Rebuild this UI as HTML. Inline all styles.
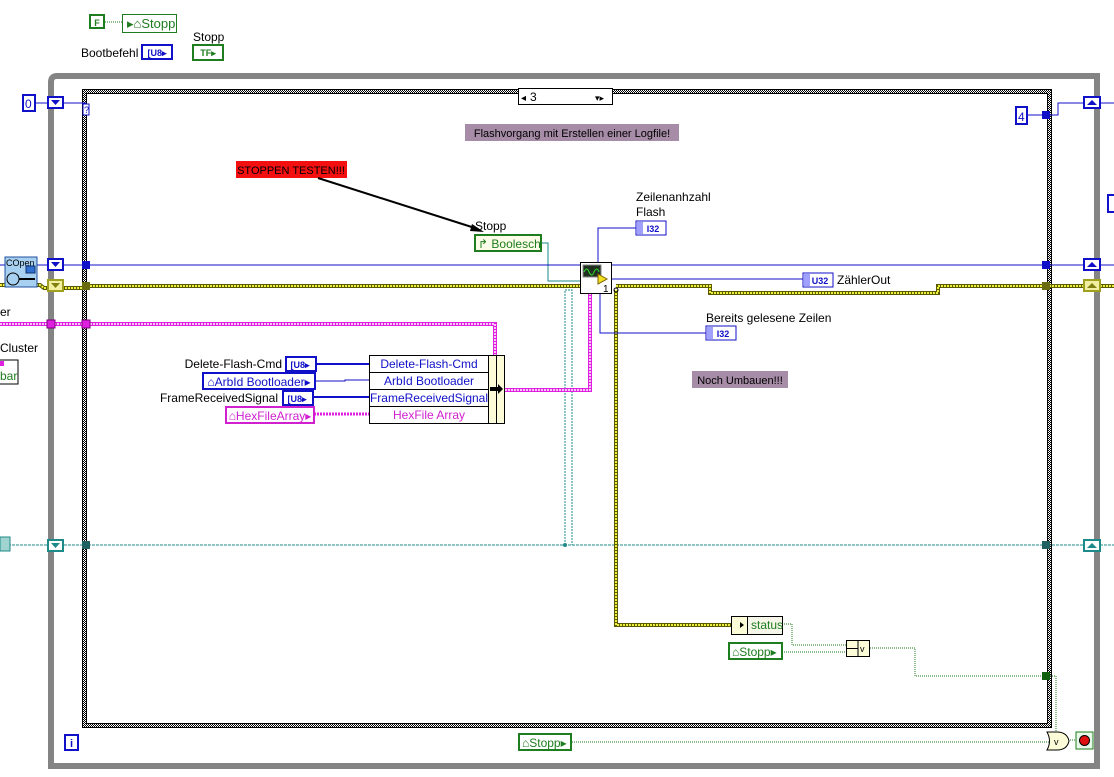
<!DOCTYPE html>
<html><head><meta charset="utf-8"><style>
html,body{margin:0;padding:0;background:#fff;}
svg{display:block;font-family:"Liberation Sans",sans-serif;}
</style></head><body>
<svg width="1114" height="777" viewBox="0 0 1114 777" xmlns="http://www.w3.org/2000/svg">
<defs>
<pattern id="chk" width="2" height="2" patternUnits="userSpaceOnUse">
<rect width="2" height="2" fill="#fff"/><rect width="1" height="1" fill="#000"/><rect x="1" y="1" width="1" height="1" fill="#000"/>
</pattern>
</defs>
<rect width="1114" height="777" fill="#fff"/>

<!-- top constants -->
<rect x="90" y="15" width="14" height="13" fill="#fff" stroke="#1e7d1e" stroke-width="2"/>
<text x="97" y="26" font-size="9" font-weight="bold" fill="#1e7d1e" text-anchor="middle">F</text>
<line x1="105" y1="22" x2="122" y2="22" stroke="#1e7d1e" stroke-dasharray="1,1"/>
<rect x="122.5" y="14.5" width="54" height="18" fill="#fff" stroke="#1e7d1e"/>
<text x="127" y="28" font-size="13" fill="#1e7d1e">▸⌂Stopp</text>
<text x="81" y="57" font-size="12" fill="#000">Bootbefehl</text>
<rect x="142" y="45" width="30" height="14" fill="#fff" stroke="#1010c8" stroke-width="2"/>
<text x="157" y="56" font-size="9" font-weight="bold" fill="#1010c8" text-anchor="middle">[U8▸</text>
<text x="193" y="41" font-size="12" fill="#000">Stopp</text>
<rect x="193" y="45" width="30" height="15" fill="#fff" stroke="#1e7d1e" stroke-width="2"/>
<text x="208" y="56" font-size="9" font-weight="bold" fill="#1e7d1e" text-anchor="middle">TF▸</text>

<!-- outer while loop -->
<path d="M51 766 V82 Q51 76 57 76 H1097 V766 Z" fill="none" stroke="#848484" stroke-width="6"/>

<!-- case structure -->
<rect x="82" y="89" width="970" height="639" fill="url(#chk)"/>
<rect x="87" y="94" width="960" height="629" fill="#fff"/>
<rect x="82.5" y="89.5" width="969" height="638" fill="none" stroke="#000"/>
<rect x="86.5" y="93.5" width="961" height="630" fill="none" stroke="#000"/>
<rect x="518.5" y="88.5" width="94" height="16" fill="#fff" stroke="#000"/>
<text x="521" y="101" font-size="10">◂</text>
<text x="530" y="101" font-size="12">3</text>
<text x="595" y="101" font-size="9">▾▸</text>
<rect x="83" y="104" width="6" height="11" fill="#fff" stroke="#1010c8"/>
<text x="84" y="113" font-size="9" fill="#1010c8">?</text>

<!-- left selector -->
<rect x="23" y="95" width="12" height="16" fill="#fff" stroke="#1010c8" stroke-width="2"/>
<text x="25" y="108" font-size="12" fill="#1010c8">0</text>
<line x1="35" y1="103" x2="86" y2="103" stroke="#1010c8"/>
<rect x="48" y="97" width="15" height="11" fill="#fff" stroke="#1010c8" stroke-width="2"/>
<path d="M51 100 h9 l-4.5 5z" fill="#1010c8"/>

<!-- right 4 -->
<rect x="1016" y="107" width="11" height="17" fill="#fff" stroke="#1010c8" stroke-width="2"/>
<text x="1018" y="121" font-size="12" fill="#1010c8">4</text>
<line x1="1027" y1="115" x2="1046" y2="115" stroke="#1010c8"/>
<polyline points="1046,115 1058,115 1058,103 1114,103" fill="none" stroke="#1010c8"/>
<rect x="1042" y="111" width="8" height="8" fill="#1010c8"/>
<rect x="1084" y="97" width="16" height="11" fill="#fff" stroke="#1010c8" stroke-width="2"/>
<path d="M1087 105 h10 l-5 -5z" fill="#1010c8"/>
<rect x="1108" y="195" width="10" height="17" fill="#fff" stroke="#1010c8" stroke-width="2"/>

<!-- comments -->
<rect x="465" y="124" width="214" height="17" fill="#a68ca6"/>
<text x="572" y="137" font-size="11" text-anchor="middle">Flashvorgang mit Erstellen einer Logfile!</text>
<rect x="236" y="161" width="111" height="17" fill="#f41010"/>
<text x="291" y="174" font-size="11" text-anchor="middle">STOPPEN TESTEN!!!</text>
<line x1="318" y1="178" x2="478" y2="229" stroke="#000" stroke-width="2"/>
<path d="M484 232 l-12 -8 l-2 7z" fill="#000"/>
<rect x="692" y="371" width="96" height="17" fill="#a68ca6"/>
<text x="740" y="384" font-size="11" text-anchor="middle">Noch Umbauen!!!</text>

<!-- teal wire -->
<path d="M0 545 H1114" stroke="#1f8a8a" stroke-dasharray="3,1" fill="none"/>
<rect x="0" y="537" width="10" height="14" fill="#9fd4d0" stroke="#1f8a8a"/>
<rect x="48" y="540" width="15" height="11" fill="#fff" stroke="#1f8a8a" stroke-width="2"/>
<path d="M51 543 h9 l-4.5 5z" fill="#1f8a8a"/>
<rect x="82" y="541" width="8" height="8" fill="#1f6060"/>
<rect x="1042" y="541" width="8" height="8" fill="#1f6060"/>
<rect x="1084" y="540" width="16" height="11" fill="#fff" stroke="#1f8a8a" stroke-width="2"/>
<path d="M1087 548 h10 l-5 -5z" fill="#1f8a8a"/>
<path d="M565 545 V290 H572 V545" stroke="#1f8a8a" stroke-dasharray="2,1" fill="none"/>
<circle cx="565" cy="545" r="2" fill="#1f8a8a"/>
<polyline points="541,243 548,243 548,281 580,281" fill="none" stroke="#1f8a8a"/>

<!-- blue main wire -->
<line x1="0" y1="265" x2="1114" y2="265" stroke="#1010c8"/>
<rect x="48" y="259" width="15" height="11" fill="#fff" stroke="#1010c8" stroke-width="2"/>
<path d="M51 262 h9 l-4.5 5z" fill="#1010c8"/>
<rect x="82" y="261" width="8" height="8" fill="#1010c8"/>
<rect x="1042" y="261" width="8" height="8" fill="#1010c8"/>
<rect x="1084" y="259" width="16" height="11" fill="#fff" stroke="#1010c8" stroke-width="2"/>
<path d="M1087 267 h10 l-5 -5z" fill="#1010c8"/>

<!-- yellow error wire -->
<g fill="none">
<path d="M0 285 H40 L44 288 H82 M90 286 H580 M616 286 H710 V293 H938 V286 H1114" stroke="#5a5a00" stroke-width="4"/>
<path d="M0 285 H40 L44 288 H82 M90 286 H580 M616 286 H710 V293 H938 V286 H1114" stroke="#f0f040" stroke-width="2" stroke-dasharray="2,1"/>
<path d="M616 290 V625 H731" stroke="#5a5a00" stroke-width="4"/>
<path d="M616 290 V625 H731" stroke="#f0f040" stroke-width="2" stroke-dasharray="2,1"/>
</g>
<rect x="48" y="280" width="15" height="11" fill="#f0f0a0" stroke="#a0a020" stroke-width="2"/>
<path d="M51 283 h9 l-4.5 5z" fill="#808010"/>
<rect x="82" y="282" width="8" height="8" fill="#6a6a10"/>
<rect x="1042" y="282" width="8" height="8" fill="#6a6a10"/>
<rect x="1084" y="280" width="16" height="11" fill="#f0f0a0" stroke="#a0a020" stroke-width="2"/>
<path d="M1087 288 h10 l-5 -5z" fill="#808010"/>

<!-- COpen -->
<rect x="5" y="257" width="32" height="30" fill="#a8d0f0" stroke="#2050a0"/>
<text x="6" y="266" font-size="9" fill="#000">COpen</text>
<rect x="26" y="266" width="9" height="7" fill="#3070d0" stroke="#103070"/>
<ellipse cx="13" cy="279" rx="6" ry="6" fill="none" stroke="#000"/>
<line x1="19" y1="279" x2="35" y2="279" stroke="#000" stroke-width="2"/>

<!-- pink wire -->
<g fill="none">
<path d="M0 324 H495 V355 M505 390 H590 V292" stroke="#e020e0" stroke-width="4"/>
<path d="M0 324 H495 V355 M505 390 H590 V292" stroke="#fff" stroke-width="1.5" stroke-dasharray="2,1"/>
<path d="M314 414 H370" stroke="#e020e0" stroke-width="3" stroke-dasharray="2,1"/>
</g>
<rect x="47" y="320" width="8" height="8" fill="#e020e0" stroke="#800080"/>
<rect x="82" y="320" width="8" height="8" fill="#e020e0" stroke="#800080"/>
<text x="0" y="316" font-size="12">er</text>
<text x="0" y="352" font-size="12">Cluster</text>
<rect x="-1" y="360" width="19" height="24" fill="#fff" stroke="#000"/>
<rect x="0" y="361" width="4" height="5" fill="#e020e0"/>
<text x="0" y="380" font-size="12" fill="#1e7d1e">bar</text>

<!-- bundle inputs -->
<text x="282" y="368" font-size="12" text-anchor="end">Delete-Flash-Cmd</text>
<rect x="286" y="357" width="30" height="14" fill="#fff" stroke="#1010c8" stroke-width="2"/>
<text x="300" y="368" font-size="9" font-weight="bold" fill="#1010c8" text-anchor="middle">[U8▸</text>
<line x1="316" y1="364" x2="370" y2="364" stroke="#1010c8" stroke-width="2"/>
<rect x="203" y="373" width="112" height="16" fill="#fff" stroke="#1010c8" stroke-width="2"/>
<text x="259" y="386" font-size="12" fill="#1010c8" text-anchor="middle">⌂ArbId Bootloader▸</text>
<polyline points="315,381 345,381 345,380 370,380" fill="none" stroke="#1010c8"/>
<text x="278" y="402" font-size="12" text-anchor="end">FrameReceivedSignal</text>
<rect x="283" y="391" width="30" height="14" fill="#fff" stroke="#1010c8" stroke-width="2"/>
<text x="297" y="402" font-size="9" font-weight="bold" fill="#1010c8" text-anchor="middle">[U8▸</text>
<line x1="313" y1="397" x2="370" y2="397" stroke="#1010c8" stroke-width="2"/>
<rect x="226" y="407" width="88" height="16" fill="#fff" stroke="#d020d0" stroke-width="2"/>
<text x="270" y="420" font-size="12" fill="#d020d0" text-anchor="middle">⌂HexFileArray▸</text>

<!-- bundle node -->
<rect x="369.5" y="355.5" width="135" height="68" fill="#fff" stroke="#000"/>
<rect x="488.5" y="355.5" width="16" height="68" fill="#fcfcd8" stroke="#000"/>
<line x1="496.5" y1="355" x2="496.5" y2="423" stroke="#000"/>
<line x1="370" y1="372.5" x2="488" y2="372.5" stroke="#000"/>
<line x1="370" y1="389.5" x2="488" y2="389.5" stroke="#000"/>
<line x1="370" y1="406.5" x2="488" y2="406.5" stroke="#000"/>
<path d="M490 387 h8 v-3 l5 5 l-5 5 v-3 h-8z" fill="#000"/>
<g font-size="12" text-anchor="middle">
<text x="429" y="368" fill="#1010c8">Delete-Flash-Cmd</text>
<text x="429" y="385" fill="#1010c8">ArbId Bootloader</text>
<text x="429" y="402" fill="#1010c8">FrameReceivedSignal</text>
<text x="429" y="419" fill="#d020d0">HexFile Array</text>
</g>

<!-- Stopp Boolesch -->
<text x="475" y="230" font-size="12">Stopp</text>
<rect x="475" y="235" width="66" height="16" fill="#fcfce8" stroke="#1e7d1e" stroke-width="2"/>
<text x="478" y="248" font-size="12" fill="#1e7d1e">↱ Boolesch</text>

<!-- main subVI node -->
<polyline points="598,262 598,228 636,228" fill="none" stroke="#1010c8"/>
<polyline points="612,279 803,279" fill="none" stroke="#1010c8"/>
<polyline points="600,292 600,333 706,333" fill="none" stroke="#1010c8"/>
<rect x="580.5" y="262.5" width="31" height="31" fill="#fff" stroke="#000"/>
<rect x="583" y="265" width="18" height="12" fill="#203020" stroke="#888"/>
<path d="M584 272 q3 -6 5 0 q3 6 5 0 q3 -6 5 0" stroke="#30e030" fill="none"/>
<path d="M598 274 l9 5 l-9 5z" fill="#f0e020" stroke="#806000"/>
<text x="603" y="292" font-size="10">1</text>
<circle cx="616" cy="290" r="2" fill="none" stroke="#000"/>

<text x="636" y="201" font-size="12">Zeilenanhzahl</text>
<text x="636" y="216" font-size="12">Flash</text>
<rect x="636" y="221" width="30" height="14" fill="#fff" stroke="#1010c8"/>
<rect x="637" y="222" width="6" height="12" fill="#a0a0ff"/>
<text x="653" y="232" font-size="9" font-weight="bold" fill="#1010c8" text-anchor="middle">I32</text>

<rect x="803" y="273" width="30" height="14" fill="#fff" stroke="#1010c8"/>
<rect x="804" y="274" width="6" height="12" fill="#a0a0ff"/>
<text x="820" y="284" font-size="9" font-weight="bold" fill="#1010c8" text-anchor="middle">U32</text>
<text x="837" y="284" font-size="12">ZählerOut</text>

<text x="706" y="322" font-size="12">Bereits gelesene Zeilen</text>
<rect x="706" y="326" width="30" height="14" fill="#fff" stroke="#1010c8"/>
<rect x="707" y="327" width="6" height="12" fill="#a0a0ff"/>
<text x="723" y="337" font-size="9" font-weight="bold" fill="#1010c8" text-anchor="middle">I32</text>

<!-- status / or -->
<g fill="none" stroke="#1e7d1e" stroke-dasharray="1,1">
<polyline points="782,624 792,624 792,645 846,645"/>
<polyline points="782,652 846,652"/>
<polyline points="870,648 915,648 915,676 1046,676"/>
<polyline points="1050,676 1056,676 1056,735 1050,738"/>
<polyline points="572,742 1050,742"/>
<polyline points="1068,740 1075,740"/>
</g>
<rect x="731.5" y="616.5" width="51" height="18" fill="#f5f5e8" stroke="#000"/>
<rect x="731.5" y="616.5" width="16" height="18" fill="#fcfcd8" stroke="#000"/>
<path d="M734 625 h6 v-3 l4 3 l-4 3 v-3z" fill="#000"/>
<text x="751" y="629" font-size="12" fill="#1e7d1e">status</text>
<rect x="729" y="643" width="53" height="16" fill="#fff" stroke="#1e7d1e" stroke-width="2"/>
<text x="732" y="656" font-size="12" fill="#1e7d1e">⌂Stopp▸</text>
<rect x="846.5" y="640.5" width="23" height="16" fill="#fcfcd8" stroke="#000"/>
<line x1="858" y1="640" x2="858" y2="657" stroke="#000"/>
<line x1="846" y1="648.5" x2="858" y2="648.5" stroke="#000"/>
<text x="860" y="652" font-size="9">v</text>
<rect x="1042" y="672" width="8" height="8" fill="#106010"/>

<rect x="519" y="734" width="52" height="16" fill="#fff" stroke="#1e7d1e" stroke-width="2"/>
<text x="522" y="747" font-size="12" fill="#1e7d1e">⌂Stopp▸</text>
<path d="M1047 732 h10 q10 0 12 9 q-2 9 -12 9 h-10 q5 -9 0 -18z" fill="#fcfcd8" stroke="#000"/>
<text x="1054" y="745" font-size="9">v</text>
<rect x="1076" y="732" width="17" height="17" fill="#e8f8e8" stroke="#1e7d1e"/>
<circle cx="1084.5" cy="740.5" r="5" fill="#e01010" stroke="#000"/>
<rect x="65" y="735" width="13" height="15" fill="#fff" stroke="#1010c8" stroke-width="2"/>
<text x="71.5" y="747" font-size="11" font-weight="bold" fill="#1010c8" text-anchor="middle">i</text>
</svg>
</body></html>
